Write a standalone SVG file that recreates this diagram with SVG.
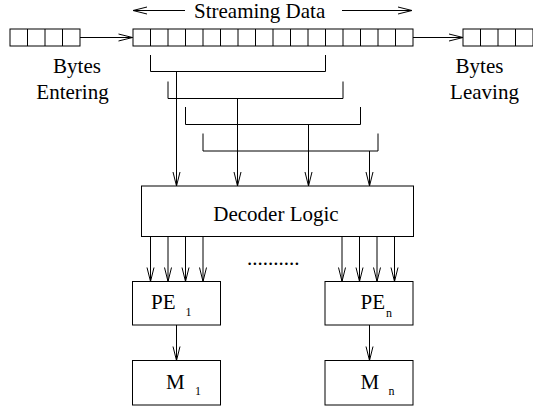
<svg xmlns="http://www.w3.org/2000/svg" width="533" height="416" viewBox="0 0 533 416">
<defs>
<style>
.b{fill:#fff;stroke:#000;stroke-width:1}
.l{fill:none;stroke:#000;stroke-width:1}
.t{font-family:"Liberation Serif","Times New Roman",serif;font-size:21px;fill:#000}
.s{font-family:"Liberation Serif","Times New Roman",serif;font-size:12px;fill:#000}
</style>
<marker id="ah" markerWidth="16" markerHeight="10" refX="15" refY="4.5" orient="auto-start-reverse" markerUnits="userSpaceOnUse">
<path d="M1,1 L15,4.5 L1,8" fill="none" stroke="#000" stroke-width="1"/>
</marker>
</defs>
<rect width="533" height="416" fill="#fff"/>
<g id="queue-in">
<rect class="b" x="10" y="29" width="70" height="17"/>
<path class="l" d="M27.5,29V46M45,29V46M62.5,29V46"/>
</g>
<g id="stream-queue">
<rect class="b" x="133" y="29" width="280" height="17"/>
<path class="l" d="M150.5,29V46M168,29V46M185.5,29V46M203,29V46M220.5,29V46M238,29V46M255.5,29V46M273,29V46M290.5,29V46M308,29V46M325.5,29V46M343,29V46M360.5,29V46M378,29V46M395.5,29V46"/>
</g>
<g id="queue-out">
<rect class="b" x="463" y="29" width="72" height="17"/>
<path class="l" d="M480.5,29V46M498,29V46M515.5,29V46M533,29V46"/>
</g>
<g id="labels">
<text class="t" x="194" y="18">Streaming Data</text>
<text class="t" x="77" y="72.5" text-anchor="middle">Bytes</text>
<text class="t" x="72.5" y="99" text-anchor="middle">Entering</text>
<text class="t" x="479.5" y="72.5" text-anchor="middle">Bytes</text>
<text class="t" x="484.5" y="99" text-anchor="middle">Leaving</text>
<text class="t" x="247" y="264.5">..........</text>
</g>
<g id="decoder">
<rect class="b" x="141.5" y="186" width="272" height="50.5"/>
<text class="t" x="276" y="221" text-anchor="middle">Decoder Logic</text>
</g>
<g id="pe1">
<rect class="b" x="132.5" y="281.5" width="88" height="43.5"/>
<text class="t" x="151" y="309">PE</text>
<text class="s" x="185.5" y="316">1</text>
</g>
<g id="pen">
<rect class="b" x="325" y="281.5" width="88" height="43.5"/>
<text class="t" x="360.5" y="309">PE</text>
<text class="s" x="386" y="316.5">n</text>
</g>
<g id="m1">
<rect class="b" x="132.5" y="360.5" width="88" height="44.5"/>
<text class="t" x="166" y="389">M</text>
<text class="s" x="195" y="395">1</text>
</g>
<g id="mn">
<rect class="b" x="325" y="360.5" width="88" height="44.5"/>
<text class="t" x="360.5" y="389">M</text>
<text class="s" x="388.5" y="395">n</text>
</g>
<g id="connectors">
<path class="l" d="M185,10.5H133" marker-end="url(#ah)"/>
<path class="l" d="M342,10.5H412" marker-end="url(#ah)"/>
<path class="l" d="M80,37.5H132.5" marker-end="url(#ah)"/>
<path class="l" d="M413,37.5H463" marker-end="url(#ah)"/>
<path class="l" d="M150.5,55V71.5H325.5V55"/>
<path class="l" d="M168,81.5V98.5H343V81.5"/>
<path class="l" d="M185.5,107V124.5H360.5V107"/>
<path class="l" d="M203,133.5V151H378V133.5"/>
<path class="l" d="M176.5,71.5V186" marker-end="url(#ah)"/>
<path class="l" d="M237.5,98.5V186" marker-end="url(#ah)"/>
<path class="l" d="M308.5,124.5V186" marker-end="url(#ah)"/>
<path class="l" d="M369.5,151V186" marker-end="url(#ah)"/>
<path class="l" d="M150.5,236.5V281.5" marker-end="url(#ah)"/>
<path class="l" d="M168,236.5V281.5" marker-end="url(#ah)"/>
<path class="l" d="M185.5,236.5V281.5" marker-end="url(#ah)"/>
<path class="l" d="M203,236.5V281.5" marker-end="url(#ah)"/>
<path class="l" d="M342,236.5V281.5" marker-end="url(#ah)"/>
<path class="l" d="M359.5,236.5V281.5" marker-end="url(#ah)"/>
<path class="l" d="M377,236.5V281.5" marker-end="url(#ah)"/>
<path class="l" d="M394.5,236.5V281.5" marker-end="url(#ah)"/>
<path class="l" d="M176.5,325V360.5" marker-end="url(#ah)"/>
<path class="l" d="M369.5,325V360.5" marker-end="url(#ah)"/>
</g>
</svg>
